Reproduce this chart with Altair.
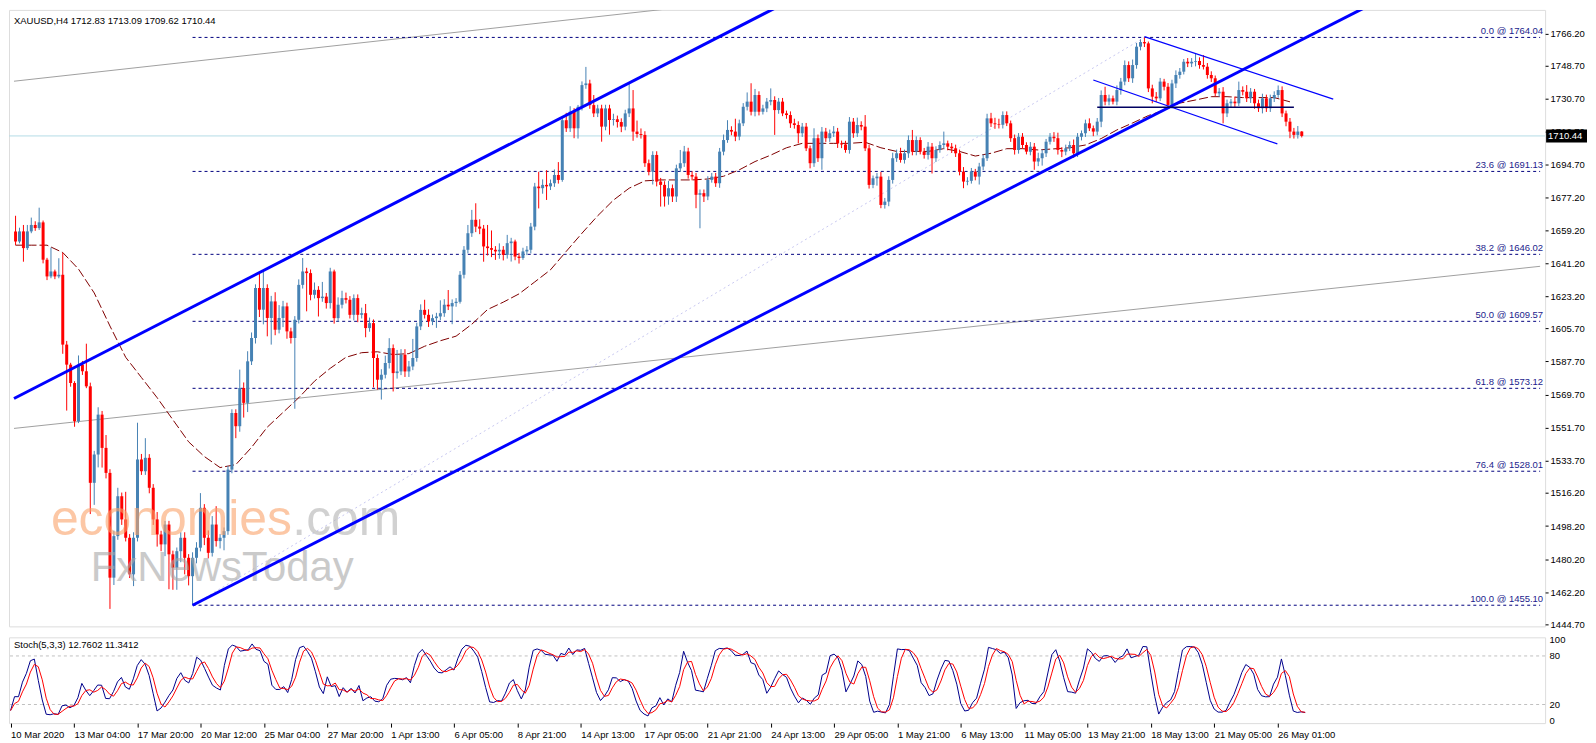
import json
import altair as alt
import numpy as np
import pandas as pd

# ---------------- data ----------------
first_open = 1658.5
close = [
 1653.0, 1658.5, 1649.4, 1658.5, 1662.0, 1660.3, 1663.4, 1643.1, 1634.0, 1636.7, 1634.0, 1634.9, 1596.9, 1586.0, 1576.0, 1555.2,
 1586.0, 1582.4, 1574.2, 1521.7, 1537.1, 1558.8, 1540.7, 1527.1, 1470.1, 1492.7, 1514.4, 1501.8, 1491.8, 1471.9, 1491.8, 1534.4,
 1528.0, 1535.3, 1519.0, 1501.8, 1493.6, 1488.2, 1499.0, 1482.8, 1475.5, 1484.5, 1491.8, 1480.9, 1470.9, 1480.9, 1486.4, 1508.1,
 1491.8, 1483.6, 1499.0, 1490.0, 1491.8, 1495.4, 1528.9, 1559.7, 1552.5, 1573.3, 1565.2, 1587.8, 1600.5, 1627.7, 1615.9, 1627.7,
 1611.4, 1620.4, 1605.0, 1611.4, 1617.7, 1604.1, 1600.5, 1610.4, 1629.4, 1636.7, 1635.8, 1624.0, 1626.7, 1622.2, 1623.0, 1619.5,
 1636.7, 1611.3, 1618.6, 1622.2, 1621.3, 1613.1, 1622.2, 1613.1, 1614.0, 1605.9, 1608.6, 1589.6, 1577.8, 1580.5, 1586.9, 1595.0,
 1581.4, 1582.3, 1591.4, 1582.3, 1585.0, 1589.6, 1606.8, 1615.8, 1613.1, 1609.5, 1611.3, 1612.2, 1614.0, 1618.6, 1617.7, 1619.5,
 1620.2, 1634.9, 1648.5, 1657.5, 1664.8, 1661.1, 1660.0, 1650.3, 1649.4, 1648.5, 1647.6, 1648.5, 1645.7, 1652.1, 1653.0, 1644.8,
 1644.0, 1647.6, 1648.5, 1661.1, 1682.9, 1682.0, 1683.8, 1683.0, 1684.7, 1689.2, 1686.5, 1719.0, 1714.6, 1723.6, 1714.6, 1726.3,
 1738.1, 1739.0, 1727.2, 1722.7, 1725.4, 1715.5, 1725.4, 1719.1, 1719.5, 1718.0, 1715.5, 1722.7, 1725.4, 1712.8, 1711.5, 1711.0,
 1695.6, 1691.0, 1700.1, 1685.6, 1683.8, 1677.5, 1682.0, 1677.5, 1692.8, 1695.6, 1702.0, 1689.2, 1688.3, 1678.4, 1679.3, 1677.5,
 1686.5, 1688.3, 1684.7, 1701.9, 1708.2, 1713.7, 1712.8, 1710.1, 1717.3, 1726.3, 1729.1, 1723.6, 1732.7, 1723.6, 1725.4, 1729.1,
 1730.0, 1724.5, 1729.1, 1722.7, 1721.8, 1717.3, 1716.4, 1711.9, 1715.5, 1703.7, 1695.6, 1709.2, 1698.3, 1712.8, 1709.2, 1711.9,
 1712.8, 1706.4, 1705.8, 1702.8, 1718.2, 1711.9, 1716.4, 1715.5, 1703.7, 1683.8, 1687.4, 1688.3, 1672.9, 1674.7, 1686.5, 1698.3,
 1701.0, 1697.4, 1701.0, 1708.2, 1701.9, 1708.2, 1701.9, 1700.1, 1704.6, 1698.3, 1702.8, 1705.5, 1706.4, 1704.6, 1703.7, 1701.0,
 1691.0, 1685.6, 1686.0, 1691.0, 1688.3, 1693.8, 1698.3, 1720.0, 1717.3, 1716.8, 1716.5, 1721.8, 1717.3, 1709.2, 1702.8, 1710.0,
 1705.5, 1701.9, 1704.6, 1696.5, 1698.3, 1701.0, 1707.3, 1710.0, 1709.2, 1702.8, 1701.9, 1703.7, 1705.5, 1701.0, 1710.0, 1711.9,
 1717.3, 1714.6, 1712.8, 1718.2, 1732.7, 1729.1, 1730.9, 1729.1, 1735.4, 1740.0, 1749.0, 1741.8, 1749.0, 1759.0, 1761.5, 1760.8,
 1736.3, 1731.8, 1730.9, 1740.0, 1737.2, 1727.3, 1739.0, 1743.6, 1745.4, 1750.8, 1749.9, 1750.8, 1751.2, 1749.0, 1748.1, 1743.6,
 1741.8, 1733.6, 1734.5, 1722.7, 1728.2, 1729.1, 1728.2, 1735.4, 1734.5, 1730.9, 1734.5, 1728.2, 1725.5, 1730.9, 1725.5, 1730.9,
 1732.7, 1735.4, 1722.7, 1718.2, 1712.8, 1711.0, 1712.83, 1710.44,
]
wick_up = [
 8.5, 2, 3.5, 3.5, 4, 2, 8, 1, 1, 13, 1, 9, 12, 2, 1, 1,
 5, 2, 15, 2, 2, 4, 2, 7, 2, 3, 4.6, 2, 15, 2, 3, 20,
 3, 10.7, 2, 2, 4, 2, 2, 2, 2, 2, 3, 3, 2, 3, 3, 8,
 2, 4, 4.6, 10, 2, 2, 2, 2, 2, 10, 3, 5.5, 3, 2, 9, 9,
 2, 3, 5, 7, 3, 2, 2, 2, 3, 7.3, 2, 2, 4, 2, 8, 2,
 2, 1, 4, 4, 3, 2, 2, 2, 3, 5, 3, 2, 2, 3, 4, 5.4,
 2, 11.7, 3, 3, 3, 10.4, 2, 3, 5.5, 3, 2, 2, 7, 3, 8, 2,
 2, 2, 2, 4.5, 5.4, 9, 4, 2, 11.7, 9.6, 2, 3.5, 2, 4.5, 2, 1,
 2, 2, 2, 2, 2, 8, 3, 8, 2, 3, 7, 2, 4, 3, 2, 1,
 2, 9, 2, 5.5, 2, 2, 2, 2, 3, 2, 2, 2, 13.6, 10, 6, 3,
 2, 2, 2, 2, 2, 2, 4, 2, 2, 7.2, 3, 2, 2, 2, 2, 2,
 2, 2, 2, 2, 3, 5.3, 2, 7, 2, 2, 5, 10, 3.3, 2, 2, 2,
 6.3, 2, 2, 2, 1.5, 2, 2.5, 2, 2, 2, 1.5, 5.4, 2, 2.5, 2, 2,
 3, 2, 1.5, 2, 2.5, 2, 4, 2, 6.3, 2, 1.5, 2, 2.5, 2, 2, 3,
 2, 3, 2, 2.5, 5.5, 2, 1.5, 2, 2.5, 2, 2, 2, 6.4, 1.5, 2, 2,
 2, 2.5, 2, 2, 1.5, 2, 2, 2.5, 3, 3, 3, 2, 2, 1.5, 2, 2,
 2, 1.5, 2.5, 2, 3, 2, 1.5, 2, 2.5, 3, 1.5, 2, 2, 3, 2, 1.5,
 2, 2.7, 1.5, 2, 2.5, 4.5, 2, 1.5, 2.5, 2, 2.5, 2, 3, 2, 1.5, 2.54,
 1, 2, 2.5, 2, 1.5, 2, 2, 2.5, 2, 1.5, 2, 2, 4.2, 2, 5.4, 2,
 2, 1.5, 2, 2.5, 2, 1.5, 2.7, 4.6, 2, 3.6, 2, 1.5, 2, 2.5, 2, 2,
 2, 2.5, 2, 1.5, 2, 2, 3, 0.26,
]
wick_dn = [
 2, 1, 7.4, 1, 1, 1.5, 1, 2, 2, 1, 1.5, 1, 5, 25, 2, 3,
 1, 2, 1, 17, 12, 7, 10.7, 3, 17, 4, 2, 3, 2, 2, 6.4, 2,
 2, 2, 3, 3, 6.6, 3.7, 6.4, 19, 12, 12, 6, 9, 5, 15.8, 3, 2,
 4, 3, 2, 3, 4, 6.8, 2, 2, 6.5, 3, 8, 5, 2, 3, 4, 8,
 10, 14.5, 3, 2, 5, 4, 3, 38.5, 2, 2, 20.8, 3, 2, 10, 2, 3,
 3, 3, 2, 2, 2, 2, 3, 4, 2, 5, 2, 16, 5.4, 10.8, 2, 3,
 10, 3, 2, 3, 3, 2, 2, 2, 2, 3, 2, 5.3, 2, 2, 2, 9.7,
 2, 1, 2, 2, 2, 3, 3, 8.3, 4, 4, 4.6, 4, 3, 2, 10, 2,
 3, 1, 2, 2, 2, 11, 3, 7.4, 2, 2, 2, 1, 2, 2, 5.4, 5.6,
 2, 2, 2, 2, 2, 8.2, 2, 8, 3, 3, 3, 2, 2, 5, 2, 2,
 2, 2, 7, 2.6, 11.8, 5.5, 4.5, 3, 3, 2, 2, 2, 2, 7.3, 18.2, 3,
 2, 1.5, 2, 2.5, 2, 1.5, 2, 2.5, 2, 1.5, 2, 2, 2.5, 2, 1.5, 2,
 2, 13.5, 2, 1.5, 2, 2.5, 2, 5.5, 2, 1.5, 2.8, 2, 2, 6.3, 2, 2,
 2, 2.5, 2, 1.5, 2, 2.5, 2, 2, 1.5, 2, 1.8, 4, 1.8, 2, 2.5, 2,
 2, 1.5, 2, 2.5, 2, 2, 1.5, 2, 2.5, 8.3, 2, 1.5, 2, 2, 2.5, 2,
 2, 3.6, 2, 1.5, 2, 4.3, 2, 1.5, 2, 2.5, 2, 2, 1.5, 2, 2.5, 2,
 2, 1.5, 2, 4.5, 2.5, 4, 2, 1.5, 2, 2.5, 3, 2, 1.5, 2.5, 2, 2,
 2, 1.5, 2.5, 2, 3, 2, 2, 1.5, 2, 2.5, 2, 2, 2.5, 2, 2, 2,
 2, 3.6, 2, 1.5, 2, 1, 2, 2.5, 2, 1.5, 2, 2, 2.5, 2, 1.5, 2,
 2, 1.5, 2, 5.4, 2, 2.5, 2, 1.5, 2, 2, 2.5, 3, 2, 2.8, 2, 2,
 2, 1.5, 2, 2.5, 3.6, 2, 2, 0.82,
]
# moving average read every 4 bars
ma_step = 4
ma_val = [
 1651, 1651, 1651, 1647, 1638, 1625, 1607, 1590, 1579, 1568, 1556, 1544, 1536, 1530, 1531.6, 1541,
 1552, 1560, 1568, 1577, 1584, 1590, 1592.5, 1593, 1591.5, 1592, 1596, 1599, 1601.5, 1608, 1616, 1620,
 1624.5, 1631, 1637.6, 1647.6, 1657.5, 1667, 1675.5, 1682, 1686, 1686.5, 1686.5, 1686.5, 1687, 1688.5, 1692, 1696.5,
 1700, 1704, 1706.4, 1706.4, 1706.4, 1706.4, 1707, 1704, 1702, 1702, 1702, 1703.5, 1702, 1699.5, 1701, 1703.5,
 1703.5, 1702.8, 1703.4, 1704, 1705.5, 1709, 1713.7, 1717.5, 1721.5, 1724.5, 1728.3, 1730, 1731.8, 1731.8, 1731.3, 1731.3,
 1731.3, 1729,
]
x_labels = ["10 Mar 2020", "13 Mar 04:00", "17 Mar 20:00", "20 Mar 12:00", "25 Mar 04:00", "27 Mar 20:00",
            "1 Apr 13:00", "6 Apr 05:00", "8 Apr 21:00", "14 Apr 13:00", "17 Apr 05:00", "21 Apr 21:00",
            "24 Apr 13:00", "29 Apr 05:00", "1 May 21:00", "6 May 13:00", "11 May 05:00", "13 May 21:00",
            "18 May 13:00", "21 May 05:00", "26 May 01:00"]
bars_per_label = 16
price_ticks = [1444.70, 1462.20, 1480.20, 1498.20, 1516.20, 1533.70, 1551.70, 1569.70, 1587.70, 1605.70,
               1623.20, 1641.20, 1659.20, 1677.20, 1694.70, 1712.70, 1730.70, 1748.70, 1766.20]
fib_pct = ["0.0", "23.6", "38.2", "50.0", "61.8", "76.4", "100.0"]
fib_val = [1764.04, 1691.13, 1646.02, 1609.57, 1573.12, 1528.01, 1455.10]
fib_start = 45
# drawn trend objects (bar index, price)
chan_x1 = [-0.4, 45];     chan_y1 = [1567.6, 1455.1]
chan_x2 = [196.2, 345.9]; chan_y2 = [1783.4, 1783.4]
grey_x1 = [-0.4, -0.4];   grey_y1 = [1740.2, 1551.3]
grey_x2 = [182, 387.6];   grey_y2 = [1783.4, 1639.5]
thin_x1 = [287, 274];     thin_y1 = [1764.5, 1740.9]
thin_x2 = [335, 320.8];   thin_y2 = [1730.5, 1706.1]
hl_x1 = [275]; hl_x2 = [325]; hl_y = [1726.0]
base_x1 = [45]; base_y1 = [1455.1]; base_x2 = [287]; base_y2 = [1764.04]

title_txt = "XAUUSD,H4  1712.83 1713.09 1709.62 1710.44"
stoch_txt = "Stoch(5,3,3) 12.7602 11.3412"

# ---------------- layout ----------------
W, H1, H2 = 1540, 618, 86
X0, X1 = -0.4, 387.6
FONT = "Liberation Sans"
xsc = alt.Scale(domain=[X0, X1], nice=False, zero=False)
ysc = alt.Scale(domain=[1443.6, 1779.0], nice=False, zero=False)

price_axis = alt.Axis(orient="right", values=price_ticks, labelExpr="format(datum.value, '.2f')",
                      tickSize=3, labelPadding=2, domain=False, grid=False, title=None,
                      labelFont=FONT, labelFontSize=9.5, labelColor="black", tickColor="black")


def X(f):
    return alt.X(f, type="quantitative", scale=xsc, axis=None)


def Y(f):
    return alt.Y(f, type="quantitative", scale=ysc, axis=price_axis)


n = len(close)
opn = [first_open] + close[:-1]
high = [max(o, c) + u for o, c, u in zip(opn, close, wick_up)]
low = [min(o, c) - d for o, c, d in zip(opn, close, wick_dn)]
cd = pd.DataFrame({"i": range(n), "o": opn, "c": close, "h": high, "l": low})
cd["top"] = np.maximum(cd.o, cd.c)
cd["bot"] = np.minimum(cd.o, cd.c)
cd["dir"] = np.where(cd.c >= cd.o, "up", "down")
col = alt.Color("dir:N", scale=alt.Scale(domain=["up", "down"], range=["#4682B4", "#FF0000"]), legend=None)

wicks = alt.Chart(cd).mark_rule(strokeWidth=1).encode(x=X("i"), y=Y("l"), y2="h", color=col)
bodies = alt.Chart(cd).mark_bar(size=3, orient="vertical").encode(x=X("i"), y=Y("bot"), y2="top", color=col)

ma_df = pd.DataFrame({"i": list(range(0, ma_step * len(ma_val), ma_step)), "v": ma_val})
ma = alt.Chart(ma_df).mark_line(color="#800000", strokeWidth=1, strokeDash=[9, 3]).encode(x=X("i"), y=Y("v"))


def seg(x1, y1, x2, y2, **kw):
    d = pd.DataFrame({"x1": x1, "y1": y1, "x2": x2, "y2": y2})
    return alt.Chart(d).mark_rule(clip=True, **kw).encode(x=X("x1"), y=Y("y1"), x2="x2", y2="y2")


grey = seg(grey_x1, grey_y1, grey_x2, grey_y2, color="#a0a0a0", strokeWidth=1)
chan = seg(chan_x1, chan_y1, chan_x2, chan_y2, color="#0000FF", strokeWidth=3)
thin = seg(thin_x1, thin_y1, thin_x2, thin_y2, color="#0000FF", strokeWidth=1.2)
hline = seg(hl_x1, hl_y, hl_x2, hl_y, color="#000060", strokeWidth=1.5)
base = seg(base_x1, base_y1, base_x2, base_y2, color="#c8c8f0", strokeWidth=1, strokeDash=[2, 3])

fib_df = pd.DataFrame({"v": fib_val, "x1": [fib_start] * len(fib_val), "x2": [X1] * len(fib_val),
                       "lab": [f"{p} @ {v:.2f}" for p, v in zip(fib_pct, fib_val)]})
fib_lines = alt.Chart(fib_df).mark_rule(color="#000080", strokeWidth=1, strokeDash=[3, 3]).encode(
    x=X("x1"), x2="x2", y=Y("v"))
fib_text = alt.Chart(fib_df).mark_text(align="right", baseline="bottom", dy=-1, font=FONT, fontSize=9.5,
                                       color="#1c1c8c").encode(x=alt.value(W - 2), y=Y("v"), text="lab:N")

last_df = pd.DataFrame({"p": [close[-1]], "lab": [f"{close[-1]:.2f}"]})
cur_line = alt.Chart(last_df).mark_rule(color="#b4dce6", strokeWidth=1).encode(y=Y("p"))
cur_box = alt.Chart(last_df).mark_tick(orient="horizontal", size=41, thickness=13, color="black",
                                       opacity=1).encode(x=alt.value(W + 21.5), y=Y("p"))
cur_txt = alt.Chart(last_df).mark_text(align="left", baseline="middle", color="white", font=FONT,
                                       fontSize=9.5).encode(x=alt.value(W + 3), y=Y("p"), text="lab:N")

t_df = pd.DataFrame({"t": [title_txt]})
title = alt.Chart(t_df).mark_text(align="left", baseline="middle", font=FONT, fontSize=9.5,
                                  color="black").encode(x=alt.value(5), y=alt.value(11), text="t:N")


def wm(txt, x, y, size, color):
    return alt.Chart(pd.DataFrame({"t": [txt]})).mark_text(
        align="left", baseline="alphabetic", font=FONT, fontSize=size, color=color, opacity=0.6
    ).encode(x=alt.value(x), y=alt.value(y), text="t:N")


wm1 = wm("economies", 42, 526, 50, "#fba36a")
wm2 = wm(".com", 284, 526, 50, "#b4b4b4")
wm3 = wm("FxNewsToday", 82, 573, 42, "#a8a8a8")

price = alt.layer(grey, cur_line, fib_lines, base, ma, wicks, bodies, wm1, wm2, wm3, chan, thin, hline,
                  fib_text, title, cur_box, cur_txt).properties(width=W, height=H1)

# ---------------- stochastic (5,3,3) from the candles ----------------
hh = cd.h.rolling(5, min_periods=1).max()
ll = cd.l.rolling(5, min_periods=1).min()
k = 100 * (cd.c - ll).rolling(3, min_periods=1).sum() / (hh - ll).rolling(3, min_periods=1).sum()
dline = k.rolling(3, min_periods=1).mean()
st = pd.DataFrame({"i": range(n), "k": k, "d": dline})

xs_axis = alt.Axis(values=list(range(0, bars_per_label * len(x_labels), bars_per_label)),
                   labelExpr=f"{json.dumps(x_labels)}[round(datum.value/{bars_per_label})]",
                   labelAlign="left", labelPadding=2, tickSize=4, domain=False, grid=False,
                   labelFlush=False, labelOverlap=False, title=None, labelFont=FONT, labelFontSize=9.5,
                   labelColor="black", tickColor="black")
ssc = alt.Scale(domain=[-3, 103], nice=False, zero=False)
s_axis = alt.Axis(orient="right", values=[0, 20, 80, 100], ticks=False, domain=False, grid=False,
                  labelPadding=4, title=None, labelFont=FONT, labelFontSize=9.5, labelColor="black")


def SX(f):
    return alt.X(f, type="quantitative", scale=xsc, axis=xs_axis)


def SY(f):
    return alt.Y(f, type="quantitative", scale=ssc, axis=s_axis)


lv = alt.Chart(pd.DataFrame({"v": [20, 80]})).mark_rule(color="#c0c0c0", strokeDash=[3, 3]).encode(y=SY("v"))
kl = alt.Chart(st).mark_line(color="#00008B", strokeWidth=1).encode(x=SX("i"), y=SY("k"))
dl = alt.Chart(st).mark_line(color="#FF0000", strokeWidth=1).encode(x=SX("i"), y=SY("d"))
stitle = alt.Chart(pd.DataFrame({"t": [stoch_txt]})).mark_text(
    align="left", baseline="middle", font=FONT, fontSize=9.5, color="black"
).encode(x=alt.value(5), y=alt.value(8), text="t:N")
stoch = alt.layer(lv, kl, dl, stitle).properties(width=W, height=H2)

chart = alt.vconcat(price, stoch, spacing=4, padding=0).configure_view(
    stroke="black", strokeWidth=1).configure(background="white")
chart.save("out.html", embed_options={"renderer": "svg", "actions": False})
